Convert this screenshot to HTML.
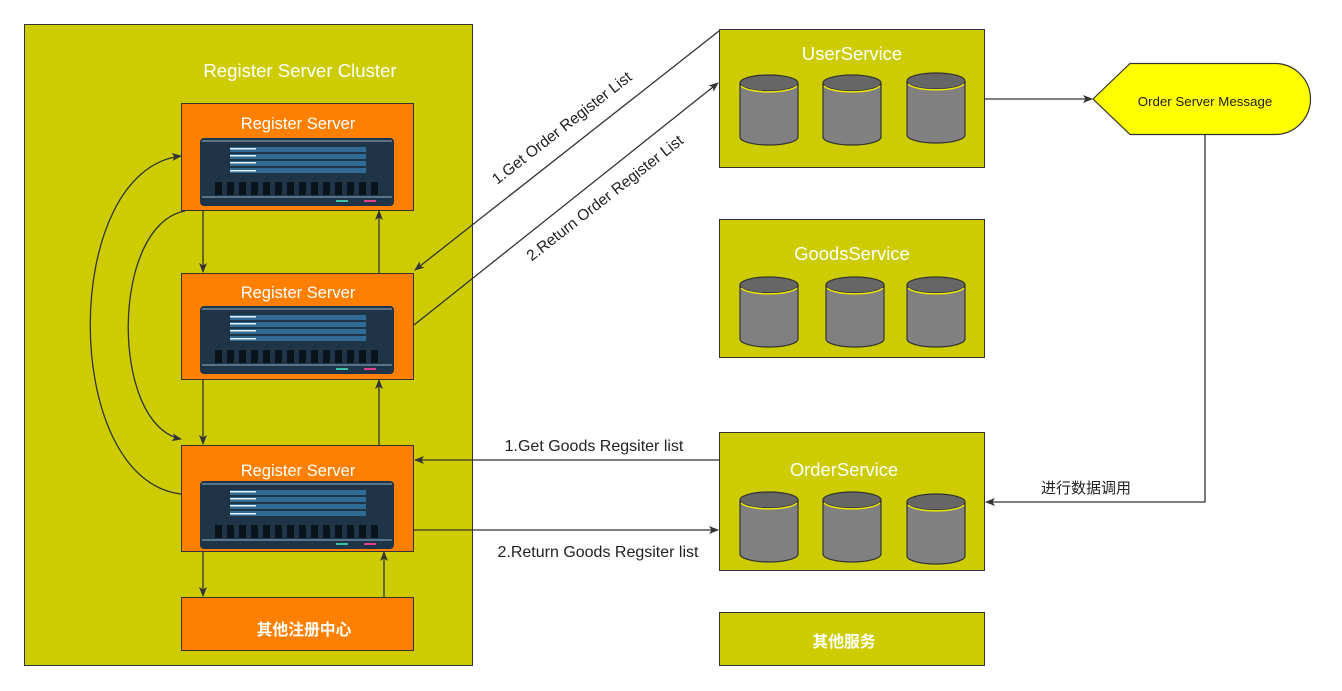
<!DOCTYPE html>
<html><head><meta charset="utf-8"><style>
html,body{margin:0;padding:0;background:#fff;}
svg{display:block;font-family:"Liberation Sans","Noto Sans CJK SC",sans-serif;}
</style></head><body>
<svg width="1342" height="691" viewBox="0 0 1342 691" xmlns="http://www.w3.org/2000/svg">
<defs>
<marker id="ar" markerWidth="10" markerHeight="10" refX="9" refY="5" orient="auto" markerUnits="userSpaceOnUse">
<path d="M0,1 L10,5 L0,9 L2.5,5 Z" fill="#333"/>
</marker>
<g id="srv">
<rect x="0" y="0" width="194" height="68" rx="4" fill="#1f3447"/>
<line x1="2" y1="3" x2="192" y2="3" stroke="#8fb4cc" stroke-width="1"/>
<rect x="30" y="9" width="136" height="5" fill="#2f6b93"/>
<rect x="30" y="16" width="136" height="5" fill="#2f6b93"/>
<rect x="30" y="23" width="136" height="5" fill="#2f6b93"/>
<rect x="30" y="30" width="136" height="5" fill="#2f6b93"/>
<rect x="30" y="10" width="26" height="1.5" fill="#e8f2f8"/>
<rect x="30" y="17" width="26" height="1.5" fill="#e8f2f8"/>
<rect x="30" y="24" width="26" height="1.5" fill="#e8f2f8"/>
<rect x="30" y="32" width="26" height="1.5" fill="#e8f2f8"/>
<g fill="#0a141d">
<rect x="15" y="44" width="7" height="13"/><rect x="27" y="44" width="7" height="13"/><rect x="39" y="44" width="7" height="13"/><rect x="51" y="44" width="7" height="13"/><rect x="63" y="44" width="7" height="13"/><rect x="75" y="44" width="7" height="13"/><rect x="87" y="44" width="7" height="13"/><rect x="99" y="44" width="7" height="13"/><rect x="111" y="44" width="7" height="13"/><rect x="123" y="44" width="7" height="13"/><rect x="135" y="44" width="7" height="13"/><rect x="147" y="44" width="7" height="13"/><rect x="159" y="44" width="7" height="13"/><rect x="171" y="44" width="7" height="13"/>
</g>
<line x1="2" y1="59" x2="192" y2="59" stroke="#8fb4cc" stroke-width="1"/>
<rect x="136" y="62" width="12" height="2" fill="#3cc0a0"/>
<rect x="164" y="62" width="12" height="2" fill="#e0408a"/>
</g>
<g id="cyl">
<path d="M0,8 L0,62 A29,8 0 0 0 58,62 L58,8" fill="#808080" stroke="#333" stroke-width="1.2"/>
<ellipse cx="29" cy="8" rx="29" ry="8" fill="#666" stroke="#333" stroke-width="1.2"/>
<path d="M1,11 A29,8 0 0 0 57,11" fill="none" stroke="#e8e800" stroke-width="1.5"/>
</g>
</defs>

<rect x="24.5" y="24.5" width="448" height="641" fill="#cccc00" stroke="#333" stroke-width="1"/>
<text x="300" y="77" font-size="18.6" fill="#fff" text-anchor="middle">Register Server Cluster</text>

<rect x="181.5" y="103.5" width="232" height="107" fill="#ff8000" stroke="#333"/>
<text x="298" y="129" font-size="16.5" fill="#fff" text-anchor="middle">Register Server</text>
<use href="#srv" x="200" y="138"/>
<rect x="181.5" y="273.5" width="232" height="106" fill="#ff8000" stroke="#333"/>
<text x="298" y="298" font-size="16.5" fill="#fff" text-anchor="middle">Register Server</text>
<use href="#srv" x="200" y="306"/>
<rect x="181.5" y="445.5" width="232" height="106" fill="#ff8000" stroke="#333"/>
<text x="298" y="476" font-size="16.5" fill="#fff" text-anchor="middle">Register Server</text>
<use href="#srv" x="200" y="481"/>
<rect x="181.5" y="597.5" width="232" height="53" fill="#ff8000" stroke="#333"/>
<text x="304" y="635" font-size="15.8" fill="#fff" text-anchor="middle" font-weight="bold">其他注册中心</text>

<rect x="719.5" y="29.5" width="265" height="138" fill="#cccc00" stroke="#333"/>
<text x="852" y="60" font-size="18.4" fill="#fff" text-anchor="middle">UserService</text>
<use href="#cyl" x="740" y="75"/><use href="#cyl" x="823" y="75"/><use href="#cyl" x="907" y="73"/>
<rect x="719.5" y="219.5" width="265" height="138" fill="#cccc00" stroke="#333"/>
<text x="852" y="260" font-size="18.4" fill="#fff" text-anchor="middle">GoodsService</text>
<use href="#cyl" x="740" y="277"/><use href="#cyl" x="826" y="277"/><use href="#cyl" x="907" y="277"/>
<rect x="719.5" y="432.5" width="265" height="138" fill="#cccc00" stroke="#333"/>
<text x="844" y="476" font-size="18.4" fill="#fff" text-anchor="middle">OrderService</text>
<use href="#cyl" x="740" y="492"/><use href="#cyl" x="823" y="492"/><use href="#cyl" x="907" y="494"/>
<rect x="719.5" y="612.5" width="265" height="53" fill="#cccc00" stroke="#333"/>
<text x="844" y="647" font-size="15.8" fill="#fff" text-anchor="middle" font-weight="bold">其他服务</text>

<path d="M1093,99 L1130,63.5 L1275,63.5 A35.5,35.5 0 0 1 1275,134.5 L1130,134.5 Z" fill="#ffff00" stroke="#333" stroke-width="1.2"/>
<text x="1205" y="106" font-size="13.3" fill="#222" text-anchor="middle">Order Server Message</text>

<g stroke="#333" stroke-width="1.3" fill="none">
<line x1="985" y1="99" x2="1092" y2="99" marker-end="url(#ar)"/>
<polyline points="1205,134 1205,502 986,502" marker-end="url(#ar)"/>
<line x1="203" y1="211" x2="203" y2="272" marker-end="url(#ar)"/>
<line x1="379" y1="273" x2="379" y2="211" marker-end="url(#ar)"/>
<line x1="203" y1="380" x2="203" y2="444" marker-end="url(#ar)"/>
<line x1="379" y1="445" x2="379" y2="380" marker-end="url(#ar)"/>
<line x1="203" y1="552" x2="203" y2="596" marker-end="url(#ar)"/>
<line x1="384" y1="597" x2="384" y2="552" marker-end="url(#ar)"/>
<path d="M185,211 C110,225 110,425 181,439" marker-end="url(#ar)"/>
<path d="M181,494 C60,480 60,170 181,156" marker-end="url(#ar)"/>
<line x1="719" y1="31" x2="415" y2="270" marker-end="url(#ar)"/>
<line x1="414" y1="325" x2="718" y2="83" marker-end="url(#ar)"/>
<line x1="719" y1="460" x2="415" y2="460" marker-end="url(#ar)"/>
<line x1="414" y1="530" x2="718" y2="530" marker-end="url(#ar)"/>
</g>
<g font-size="16" fill="#222">
<text x="0" y="0" font-size="15.5" text-anchor="middle" transform="translate(565,132) rotate(-38)">1.Get Order Register List</text>
<text x="0" y="0" font-size="15.5" text-anchor="middle" transform="translate(608,202) rotate(-38)">2.Return Order Register List</text>
<text x="594" y="451" text-anchor="middle">1.Get Goods Regsiter list</text>
<text x="598" y="557" text-anchor="middle">2.Return Goods Regsiter list</text>
<text x="1086" y="493" font-size="15" text-anchor="middle">进行数据调用</text>
</g>
</svg>
</body></html>
